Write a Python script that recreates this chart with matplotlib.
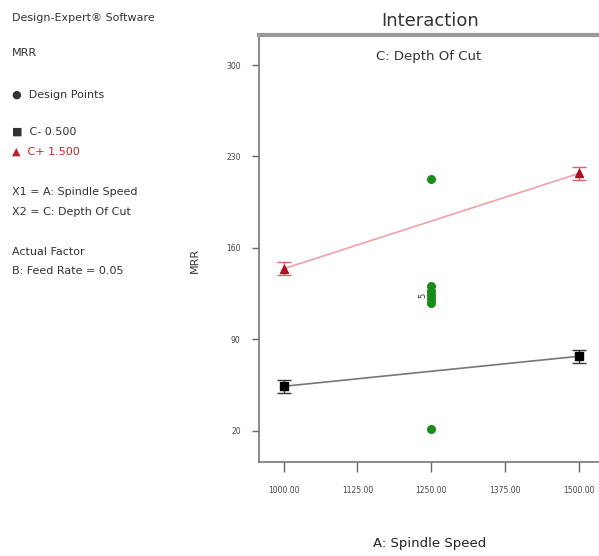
import matplotlib.pyplot as plt

# MRR interaction plot: spindle speed x depth of cut
speed = [1000, 1500]
mrr_c_low = [54, 77]
mrr_c_high = [144, 217]
err_low = [5, 5]
err_high = [5, 5]

design_x = [1250, 1250, 1250, 1250, 1250, 1250, 1250]
design_y = [213, 21, 131, 127, 124, 121, 118]

xticks = [1000, 1125, 1250, 1375, 1500]
yticks = [20, 90, 160, 230, 300]

fig = plt.figure(figsize=(5.99, 5.56), dpi=100)
ax = fig.add_axes([0.432, 0.169, 0.568, 0.768])

ax.plot(speed, mrr_c_low, color="#777777", lw=1.2, zorder=2)
ax.errorbar(speed, mrr_c_low, yerr=err_low, fmt="s", color="black", ms=6,
            ecolor="#333333", elinewidth=1, capsize=5, zorder=3)
ax.plot(speed, mrr_c_high, color="#f0a0a8", lw=1.2, zorder=2)
ax.errorbar(speed, mrr_c_high, yerr=err_high, fmt="^", color="#b01020", ms=6,
            ecolor="#e06070", elinewidth=1, capsize=5, zorder=3)

ax.scatter(design_x, design_y, s=30, color="#1a8a1a", zorder=4)
ax.text(1243, 124, "5", fontsize=6, rotation=90, ha="right", va="center", color="#333333")

ax.set_xlim(958, 1534)
ax.set_ylim(-4, 323)
ax.set_xticks(xticks)
ax.set_xticklabels([f"{v:.2f}" for v in xticks], fontsize=5.5, color="#444444")
ax.set_yticks(yticks)
ax.set_yticklabels([str(v) for v in yticks], fontsize=5.5, color="#444444")
ax.tick_params(axis="x", length=7, width=1, color="#666666", pad=10)
ax.tick_params(axis="y", length=5, width=1, color="#666666", pad=8)

for side in ["left", "bottom"]:
    ax.spines[side].set_color("#777777")
    ax.spines[side].set_linewidth(1.2)
ax.spines["top"].set_color("#999999")
ax.spines["top"].set_linewidth(3)
ax.spines["right"].set_visible(False)

ax.text(0.5, 0.965, "C: Depth Of Cut", transform=ax.transAxes, ha="center",
        va="top", fontsize=9.5, color="#333333")
fig.text(0.718, 0.963, "Interaction", ha="center", va="center", fontsize=13, color="#333333")
fig.text(0.326, 0.532, "MRR", rotation=90, ha="center", va="center", fontsize=8, color="#333333")
fig.text(0.718, 0.023, "A: Spindle Speed", ha="center", va="center", fontsize=9.5, color="#222222")

# side panel text
left = 0.02
tc = "#333333"
fig.text(left, 0.967, "Design-Expert\u00ae Software", fontsize=8, color=tc, va="center")
fig.text(left, 0.904, "MRR", fontsize=8, color=tc, va="center")
fig.text(left, 0.829, "\u25cf  Design Points", fontsize=8, color=tc, va="center")
fig.text(left, 0.763, "\u25a0  C- 0.500", fontsize=8, color=tc, va="center")
fig.text(left, 0.727, "\u25b2  C+ 1.500", fontsize=8, color="#c0202a", va="center")
fig.text(left, 0.654, "X1 = A: Spindle Speed", fontsize=8, color=tc, va="center")
fig.text(left, 0.619, "X2 = C: Depth Of Cut", fontsize=8, color=tc, va="center")
fig.text(left, 0.546, "Actual Factor", fontsize=8, color=tc, va="center")
fig.text(left, 0.513, "B: Feed Rate = 0.05", fontsize=8, color=tc, va="center")

fig.savefig("out.png", dpi=100)
